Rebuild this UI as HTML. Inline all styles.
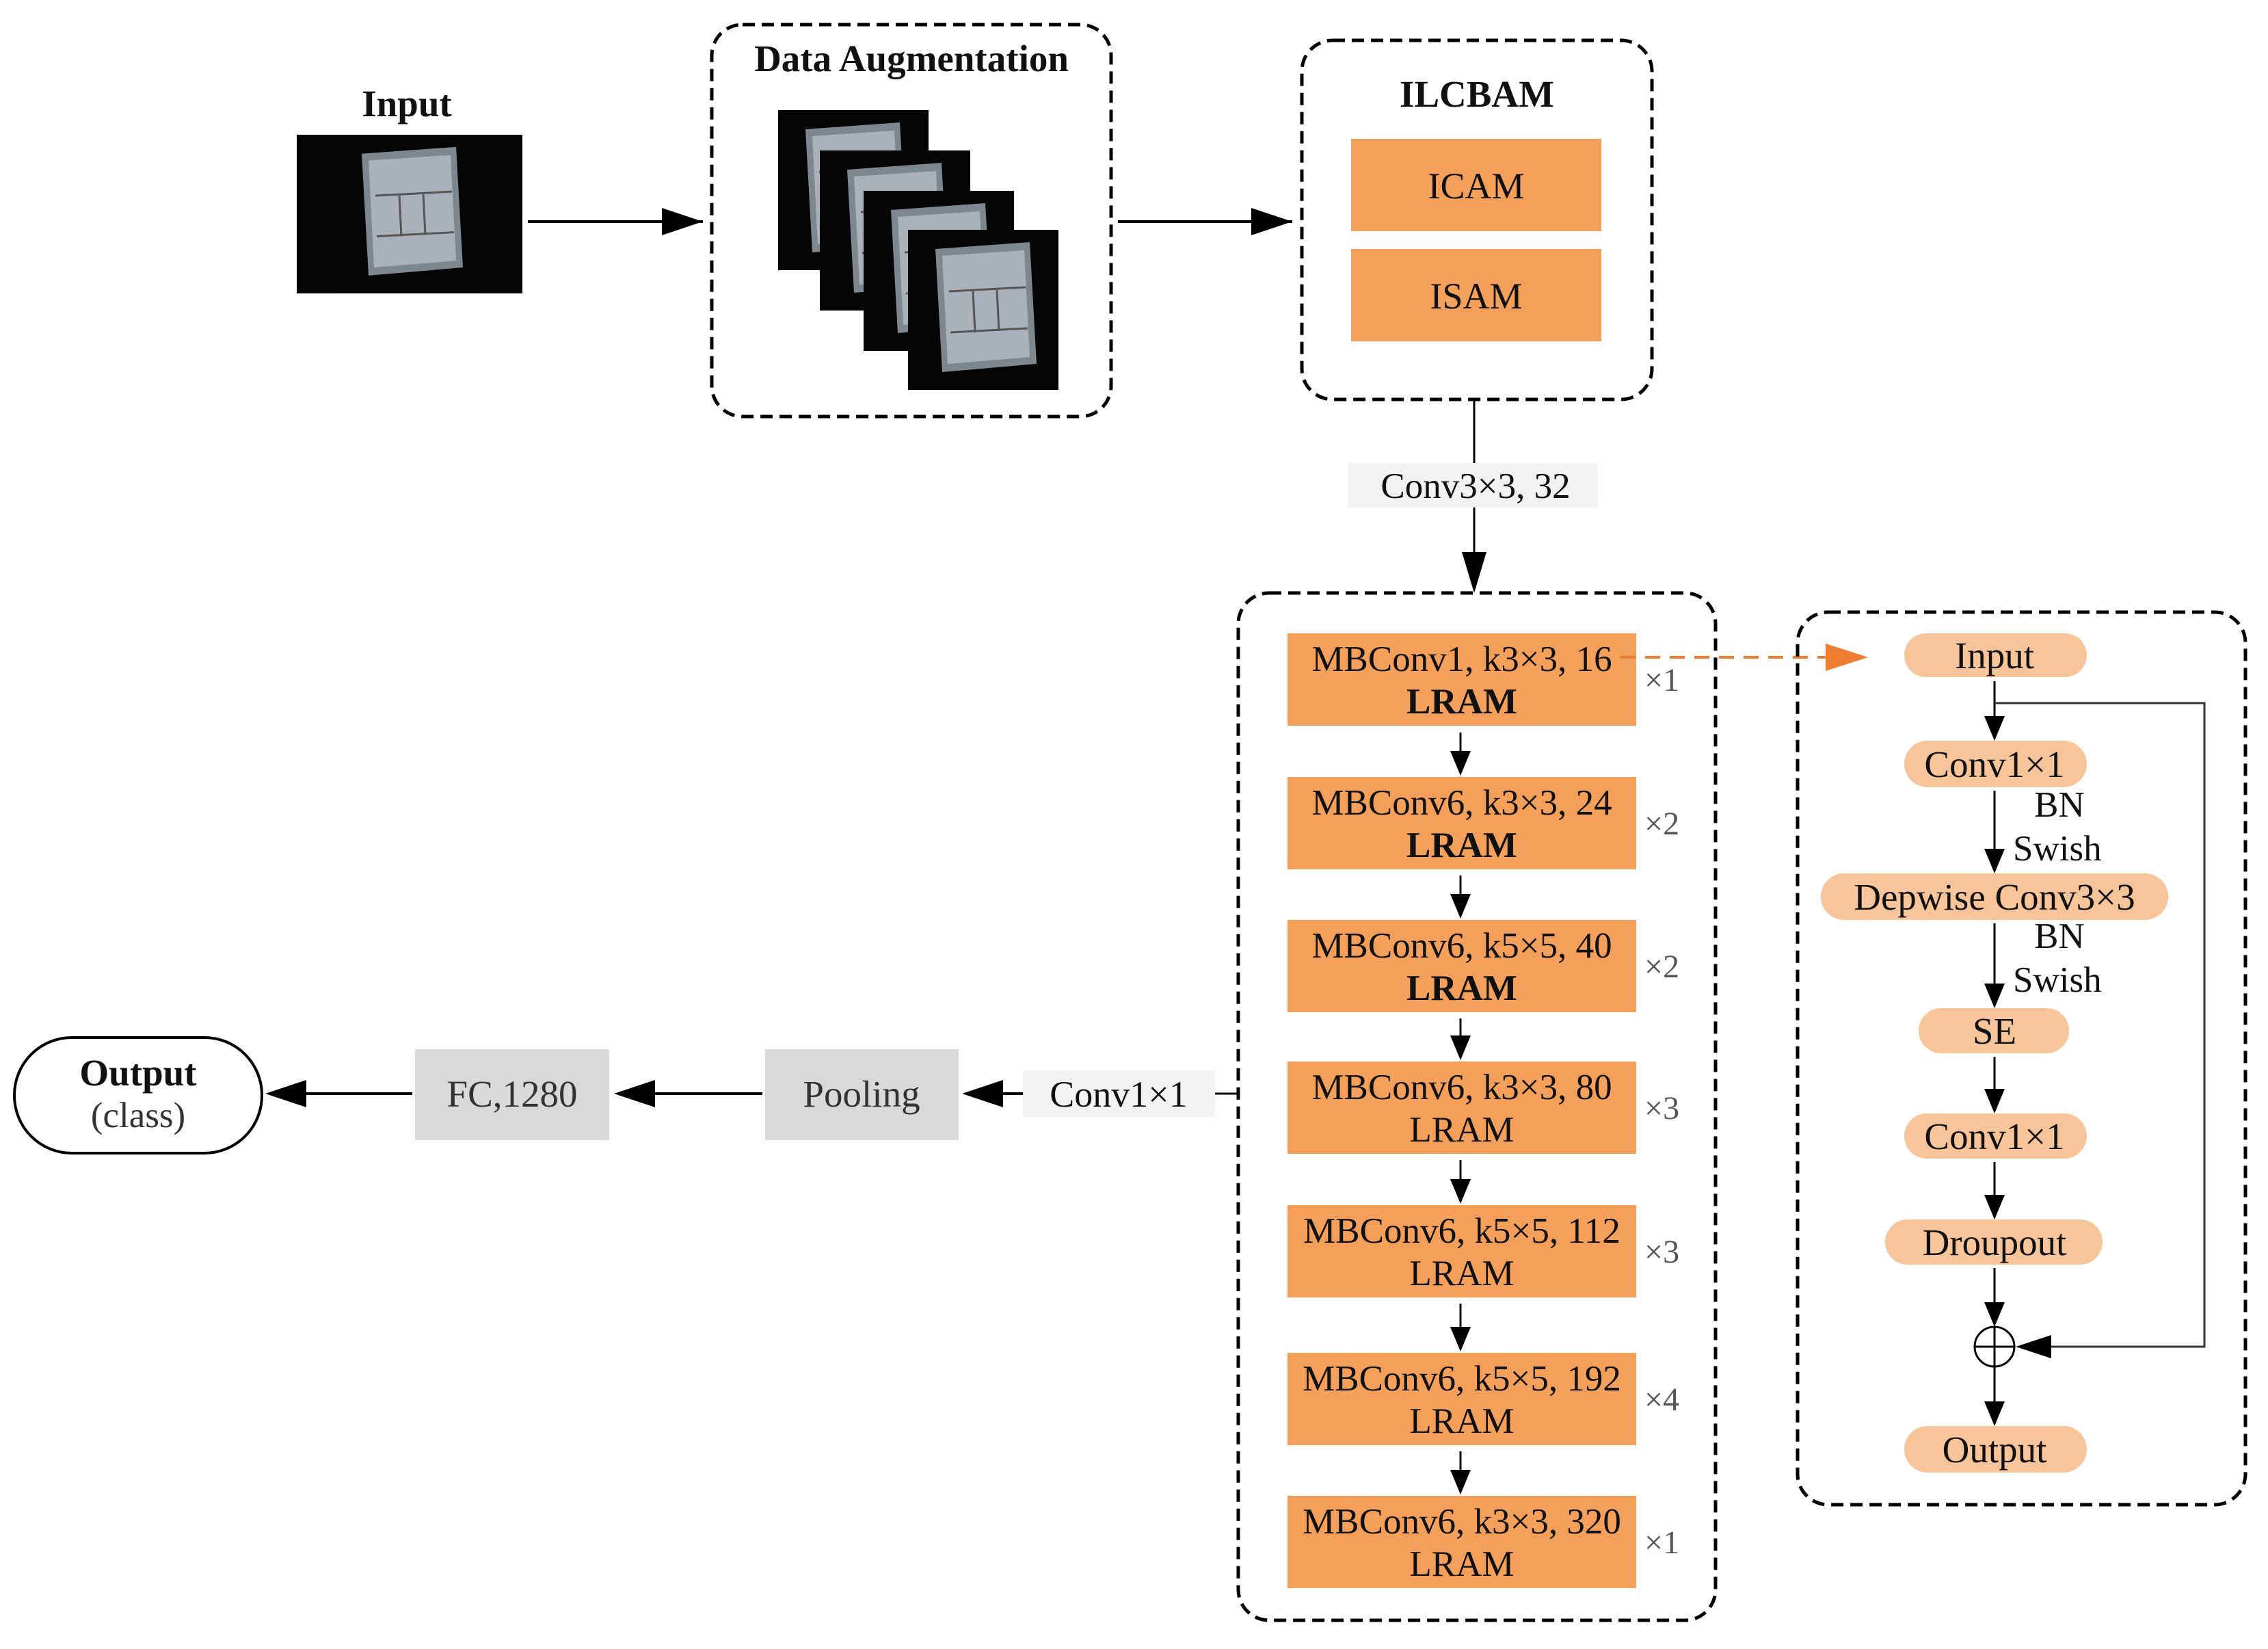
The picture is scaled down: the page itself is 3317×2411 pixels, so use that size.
<!DOCTYPE html>
<html><head><meta charset="utf-8"><style>
html,body{margin:0;padding:0;background:#fff}
svg{display:block}
text{font-family:"Liberation Serif",serif;fill:#111}
</style></head><body>
<svg width="3317" height="2411" viewBox="0 0 3317 2411" xmlns="http://www.w3.org/2000/svg">
<defs>
<g id="img">
<rect x="0" y="0" width="220" height="234" fill="#050505"/>
<polygon points="40,28 178,18 188,196 50,208" fill="#7d8790"/>
<polygon points="50,38 170,30 178,186 58,196" fill="#a9b2ba"/>
<line x1="60" y1="90" x2="172" y2="84" stroke="#555" stroke-width="3"/>
<line x1="62" y1="150" x2="175" y2="144" stroke="#555" stroke-width="3"/>
<line x1="95" y1="90" x2="98" y2="150" stroke="#555" stroke-width="3"/>
<line x1="130" y1="88" x2="133" y2="148" stroke="#555" stroke-width="3"/>
</g>
</defs>

<!-- Input -->
<text x="595" y="170" font-size="55" font-weight="bold" text-anchor="middle">Input</text>
<rect x="434" y="197" width="330" height="232" fill="#050505"/>
<use href="#img" transform="translate(489,197) scale(1,0.99)"/>
<line x1="772" y1="324" x2="1028" y2="324" stroke="#000" stroke-width="4"/>
<path d="M1028,324 l-60,-20 v40z" fill="#000"/>

<!-- Data augmentation -->
<rect x="1041" y="36" width="584" height="573" rx="45" fill="none" stroke="#000" stroke-width="5" stroke-dasharray="18,10"/>
<text x="1333" y="104" font-size="55" font-weight="bold" text-anchor="middle">Data Augmentation</text>
<use href="#img" transform="translate(1138,161)"/>
<use href="#img" transform="translate(1199,220)"/>
<use href="#img" transform="translate(1263,279)"/>
<use href="#img" transform="translate(1328,336)"/>
<line x1="1635" y1="324" x2="1890" y2="324" stroke="#000" stroke-width="4"/>
<path d="M1890,324 l-60,-20 v40z" fill="#000"/>

<!-- ILCBAM -->
<rect x="1904" y="59" width="512" height="525" rx="45" fill="none" stroke="#000" stroke-width="5" stroke-dasharray="18,10"/>
<text x="2160" y="156" font-size="55" font-weight="bold" text-anchor="middle">ILCBAM</text>
<rect x="1976" y="203" width="366" height="135" fill="#f4a05a"/>
<text x="2159" y="290" font-size="54" text-anchor="middle">ICAM</text>
<rect x="1976" y="364" width="366" height="135" fill="#f4a05a"/>
<text x="2159" y="451" font-size="54" text-anchor="middle">ISAM</text>

<line x1="2156" y1="584" x2="2156" y2="677" stroke="#000" stroke-width="3"/>
<rect x="1971" y="677" width="366" height="65" fill="#f2f2f2"/>
<text x="2158" y="728" font-size="53" text-anchor="middle">Conv3×3, 32</text>
<line x1="2156" y1="742" x2="2156" y2="820" stroke="#000" stroke-width="3"/>
<path d="M2156,867 l-18,-60 h36z" fill="#000"/>

<!-- Main block -->
<rect x="1811" y="867" width="698" height="1502" rx="45" fill="none" stroke="#000" stroke-width="5" stroke-dasharray="18,10"/>
<g font-size="53">
<rect x="1883" y="926" width="510" height="135" fill="#f4a05a"/>
<text x="2138" y="981" text-anchor="middle">MBConv1, k3×3, 16</text>
<text x="2138" y="1043" text-anchor="middle" font-weight="bold">LRAM</text>
<rect x="1883" y="1136" width="510" height="135" fill="#f4a05a"/>
<text x="2138" y="1191" text-anchor="middle">MBConv6, k3×3, 24</text>
<text x="2138" y="1253" text-anchor="middle" font-weight="bold">LRAM</text>
<rect x="1883" y="1345" width="510" height="135" fill="#f4a05a"/>
<text x="2138" y="1400" text-anchor="middle">MBConv6, k5×5, 40</text>
<text x="2138" y="1462" text-anchor="middle" font-weight="bold">LRAM</text>
<rect x="1883" y="1552" width="510" height="135" fill="#f4a05a"/>
<text x="2138" y="1607" text-anchor="middle">MBConv6, k3×3, 80</text>
<text x="2138" y="1669" text-anchor="middle">LRAM</text>
<rect x="1883" y="1762" width="510" height="135" fill="#f4a05a"/>
<text x="2138" y="1817" text-anchor="middle">MBConv6, k5×5, 112</text>
<text x="2138" y="1879" text-anchor="middle">LRAM</text>
<rect x="1883" y="1978" width="510" height="135" fill="#f4a05a"/>
<text x="2138" y="2033" text-anchor="middle">MBConv6, k5×5, 192</text>
<text x="2138" y="2095" text-anchor="middle">LRAM</text>
<rect x="1883" y="2187" width="510" height="135" fill="#f4a05a"/>
<text x="2138" y="2242" text-anchor="middle">MBConv6, k3×3, 320</text>
<text x="2138" y="2304" text-anchor="middle">LRAM</text>
</g>
<g font-size="48">
<text x="2405" y="1010" style="fill:#555">×1</text>
<text x="2405" y="1220" style="fill:#555">×2</text>
<text x="2405" y="1429" style="fill:#555">×2</text>
<text x="2405" y="1636" style="fill:#555">×3</text>
<text x="2405" y="1846" style="fill:#555">×3</text>
<text x="2405" y="2062" style="fill:#555">×4</text>
<text x="2405" y="2271" style="fill:#555">×1</text>
</g>
<g stroke="#000" stroke-width="3">
<line x1="2136" y1="1071" x2="2136" y2="1100"/>
<line x1="2136" y1="1280" x2="2136" y2="1309"/>
<line x1="2136" y1="1489" x2="2136" y2="1516"/>
<line x1="2136" y1="1696" x2="2136" y2="1726"/>
<line x1="2136" y1="1906" x2="2136" y2="1942"/>
<line x1="2136" y1="2122" x2="2136" y2="2151"/>
</g>
<g fill="#000">
<path d="M2136,1134 l-15,-36 h30z"/>
<path d="M2136,1343 l-15,-36 h30z"/>
<path d="M2136,1550 l-15,-36 h30z"/>
<path d="M2136,1760 l-15,-36 h30z"/>
<path d="M2136,1976 l-15,-36 h30z"/>
<path d="M2136,2185 l-15,-36 h30z"/>
</g>

<!-- orange dashed -->
<line x1="2370" y1="961" x2="2680" y2="961" stroke="#ed7d31" stroke-width="4" stroke-dasharray="22,14"/>
<path d="M2732,961 l-62,-20 v40z" fill="#ed7d31"/>

<!-- Right block -->
<rect x="2629" y="895" width="655" height="1305" rx="45" fill="none" stroke="#000" stroke-width="5" stroke-dasharray="18,10"/>
<g fill="#f8c49a">
<rect x="2785" y="926" width="267" height="64" rx="32"/>
<rect x="2785" y="1083" width="267" height="68" rx="34"/>
<rect x="2663" y="1277" width="508" height="68" rx="34"/>
<rect x="2806" y="1474" width="220" height="66" rx="33"/>
<rect x="2785" y="1628" width="267" height="66" rx="33"/>
<rect x="2757" y="1783" width="318" height="66" rx="33"/>
<rect x="2785" y="2085" width="267" height="68" rx="34"/>
</g>
<g font-size="55" text-anchor="middle">
<text x="2917" y="977">Input</text>
<text x="2917" y="1136">Conv1×1</text>
<text x="2917" y="1330">Depwise Conv3×3</text>
<text x="2917" y="1526">SE</text>
<text x="2917" y="1680">Conv1×1</text>
<text x="2917" y="1835">Droupout</text>
<text x="2917" y="2138">Output</text>
</g>
<g font-size="53">
<text x="3012" y="1194" text-anchor="middle">BN</text>
<text x="2944" y="1258">Swish</text>
<text x="3012" y="1386" text-anchor="middle">BN</text>
<text x="2944" y="1450">Swish</text>
</g>
<g stroke="#000" stroke-width="3" fill="none">
<line x1="2917" y1="996" x2="2917" y2="1050"/>
<line x1="2917" y1="1156" x2="2917" y2="1245"/>
<line x1="2917" y1="1350" x2="2917" y2="1442"/>
<line x1="2917" y1="1545" x2="2917" y2="1596"/>
<line x1="2917" y1="1699" x2="2917" y2="1751"/>
<line x1="2917" y1="1854" x2="2917" y2="1910"/>
<line x1="2917" y1="1998" x2="2917" y2="2052"/>
<polyline points="2917,1028 3224,1028 3224,1969 3000,1969" stroke="#333"/>
<circle cx="2917" cy="1969" r="29" stroke-width="3"/>
<line x1="2888" y1="1969" x2="2946" y2="1969"/>
<line x1="2917" y1="1940" x2="2917" y2="1998"/>
</g>
<g fill="#000">
<path d="M2917,1083 l-15,-36 h30z"/>
<path d="M2917,1277 l-15,-36 h30z"/>
<path d="M2917,1474 l-15,-36 h30z"/>
<path d="M2917,1628 l-15,-36 h30z"/>
<path d="M2917,1783 l-15,-36 h30z"/>
<path d="M2917,1940 l-15,-36 h30z"/>
<path d="M2917,2085 l-15,-36 h30z"/>
<path d="M2948,1969 l52,-17 v34z"/>
</g>

<!-- bottom left flow -->
<line x1="1811" y1="1599" x2="1777" y2="1599" stroke="#000" stroke-width="3"/>
<rect x="1496" y="1565" width="281" height="68" fill="#f2f2f2"/>
<text x="1636" y="1618" font-size="54" text-anchor="middle">Conv1×1</text>
<line x1="1496" y1="1599" x2="1460" y2="1599" stroke="#000" stroke-width="4"/>
<path d="M1407,1599 l60,-20 v40z" fill="#000"/>
<rect x="1119" y="1534" width="283" height="133" fill="#d9d9d9"/>
<text x="1260" y="1618" font-size="55" text-anchor="middle" style="fill:#333">Pooling</text>
<line x1="1115" y1="1599" x2="950" y2="1599" stroke="#000" stroke-width="4"/>
<path d="M898,1599 l60,-20 v40z" fill="#000"/>
<rect x="607" y="1534" width="284" height="133" fill="#d9d9d9"/>
<text x="749" y="1618" font-size="55" text-anchor="middle" style="fill:#333">FC,1280</text>
<line x1="603" y1="1599" x2="440" y2="1599" stroke="#000" stroke-width="4"/>
<path d="M388,1599 l60,-20 v40z" fill="#000"/>
<rect x="21" y="1517" width="362" height="169" rx="84" fill="#fff" stroke="#000" stroke-width="4"/>
<text x="202" y="1587" font-size="55" font-weight="bold" text-anchor="middle">Output</text>
<text x="202" y="1648" font-size="53" text-anchor="middle" style="fill:#333">(class)</text>
</svg>
</body></html>
